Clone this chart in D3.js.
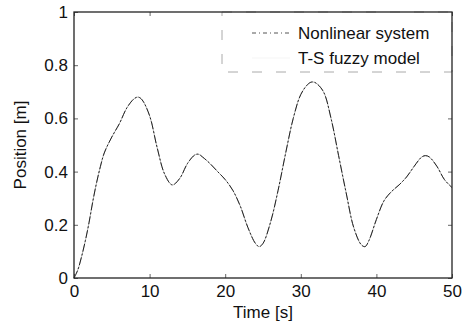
<!DOCTYPE html>
<html>
<head>
<meta charset="utf-8">
<script src="https://cdn.jsdelivr.net/npm/d3@7"></script>
<style>
  body { margin: 0; background: #fff; }
  text { font-family: "Liberation Sans", Arial, sans-serif; fill: #111; }
</style>
</head>
<body>
<svg id="chart" width="468" height="326"></svg>
<script>
// time samples [s]
const time = [0, 0.5, 1, 1.5, 2, 2.5, 3, 3.5, 4, 5, 6, 7, 8, 8.5, 9, 10, 11, 12, 13, 14, 15, 16, 16.5, 17, 18, 19, 20, 21, 22, 23, 24, 24.5, 25, 26, 27, 28, 29, 30, 31, 31.5, 32, 33, 34, 35, 36, 37, 38, 38.5, 39, 40, 41, 42, 43, 44, 45, 46, 46.5, 47, 48, 49, 50];
// nonlinear system position [m]
const nonlinear = [0, 0.03, 0.08, 0.14, 0.21, 0.29, 0.36, 0.42, 0.47, 0.53, 0.58, 0.64, 0.675, 0.68, 0.67, 0.61, 0.49, 0.39, 0.35, 0.375, 0.43, 0.463, 0.465, 0.455, 0.43, 0.40, 0.37, 0.33, 0.27, 0.19, 0.13, 0.118, 0.13, 0.21, 0.33, 0.47, 0.60, 0.69, 0.73, 0.737, 0.733, 0.70, 0.60, 0.46, 0.32, 0.19, 0.125, 0.118, 0.14, 0.22, 0.29, 0.325, 0.35, 0.38, 0.42, 0.455, 0.46, 0.455, 0.42, 0.37, 0.34];
// T-S fuzzy model position [m]
const fuzzy = [0, 0.03, 0.08, 0.14, 0.21, 0.29, 0.36, 0.42, 0.47, 0.53, 0.58, 0.64, 0.675, 0.68, 0.67, 0.61, 0.49, 0.39, 0.35, 0.375, 0.43, 0.463, 0.465, 0.455, 0.43, 0.40, 0.37, 0.33, 0.27, 0.19, 0.13, 0.118, 0.13, 0.21, 0.33, 0.47, 0.60, 0.69, 0.73, 0.737, 0.733, 0.70, 0.60, 0.46, 0.32, 0.19, 0.125, 0.118, 0.14, 0.22, 0.29, 0.325, 0.35, 0.38, 0.42, 0.455, 0.46, 0.455, 0.42, 0.37, 0.34];

const xTicks = [0, 10, 20, 30, 40, 50];
const yTicks = [0, 0.2, 0.4, 0.6, 0.8, 1];
const legendLabels = ["Nonlinear system", "T-S fuzzy model"];

const svg = d3.select("#chart");
const pLeft = 74, pRight = 452, pTop = 12, pBottom = 278;
const fontSize = "17px";

const x = d3.scaleLinear().domain([0, 50]).range([pLeft, pRight]);
const y = d3.scaleLinear().domain([0, 1]).range([pBottom, pTop]);

// axes, ticks inward
const fmt = d => d === 0 || d === 1 ? String(d) : d3.format(".1f")(d);

svg.append("g")
    .attr("transform", "translate(0," + pBottom + ")")
    .call(d3.axisBottom(x).tickValues(xTicks).tickSize(-4).tickPadding(7).tickFormat(d3.format("d")))
    .call(g => g.select(".domain").remove());

svg.append("g")
    .attr("transform", "translate(" + pLeft + ",0)")
    .call(d3.axisLeft(y).tickValues(yTicks).tickSize(-4).tickPadding(6).tickFormat(fmt))
    .call(g => g.select(".domain").remove());

svg.append("g")
    .attr("transform", "translate(0," + pTop + ")")
    .call(d3.axisTop(x).tickValues(xTicks).tickSize(-4).tickFormat(""))
    .call(g => g.select(".domain").remove());

svg.append("g")
    .attr("transform", "translate(" + pRight + ",0)")
    .call(d3.axisRight(y).tickValues(yTicks).tickSize(-4).tickFormat(""))
    .call(g => g.select(".domain").remove());

svg.selectAll(".tick text")
    .style("font-size", fontSize)
    .style("font-family", "'Liberation Sans', Arial, sans-serif")
    .attr("fill", "#111");
svg.selectAll(".tick line").attr("stroke", "#666");

// curves
const pts = (ys) => time.map((t, i) => [t, ys[i]]);
const line = d3.line()
    .x(d => x(d[0]))
    .y(d => y(d[1]))
    .curve(d3.curveCatmullRom);

svg.append("path")
    .attr("d", line(pts(fuzzy)))
    .attr("fill", "none")
    .attr("stroke", "#999")
    .attr("stroke-width", 0.7);

svg.append("path")
    .attr("d", line(pts(nonlinear)))
    .attr("fill", "none")
    .attr("stroke", "#222")
    .attr("stroke-width", 1)
    .attr("stroke-dasharray", "8,2,2,2");

// legend
const lg = svg.append("g");
lg.append("rect")
    .attr("x", 222).attr("y", pTop)
    .attr("width", pRight - 222).attr("height", 60)
    .attr("fill", "#fff")
    .attr("stroke", "#aaa")
    .attr("stroke-width", 1)
    .attr("stroke-dasharray", "10,14");
lg.append("line")
    .attr("x1", 252).attr("x2", 290).attr("y1", 33).attr("y2", 33)
    .attr("stroke", "#555").attr("stroke-width", 1)
    .attr("stroke-dasharray", "4,3,1,3");
lg.append("line")
    .attr("x1", 252).attr("x2", 290).attr("y1", 58).attr("y2", 58)
    .attr("stroke", "#eee").attr("stroke-width", 0.6);
lg.selectAll("text.lab")
    .data(legendLabels)
    .enter()
    .append("text")
    .attr("class", "lab")
    .attr("x", 298)
    .attr("y", (d, i) => 39 + i * 25)
    .style("font-size", fontSize)
    .text(d => d);

// frame
svg.append("rect")
    .attr("x", pLeft).attr("y", pTop)
    .attr("width", pRight - pLeft).attr("height", pBottom - pTop)
    .attr("fill", "none")
    .attr("stroke", "#222")
    .attr("stroke-width", 1.3);

// axis labels
svg.append("text")
    .attr("x", (pLeft + pRight) / 2)
    .attr("y", 318)
    .attr("text-anchor", "middle")
    .style("font-size", fontSize)
    .text("Time [s]");

svg.append("text")
    .attr("transform", "translate(26," + ((pTop + pBottom) / 2) + ") rotate(-90)")
    .attr("text-anchor", "middle")
    .style("font-size", fontSize)
    .text("Position [m]");
</script>
</body>
</html>
